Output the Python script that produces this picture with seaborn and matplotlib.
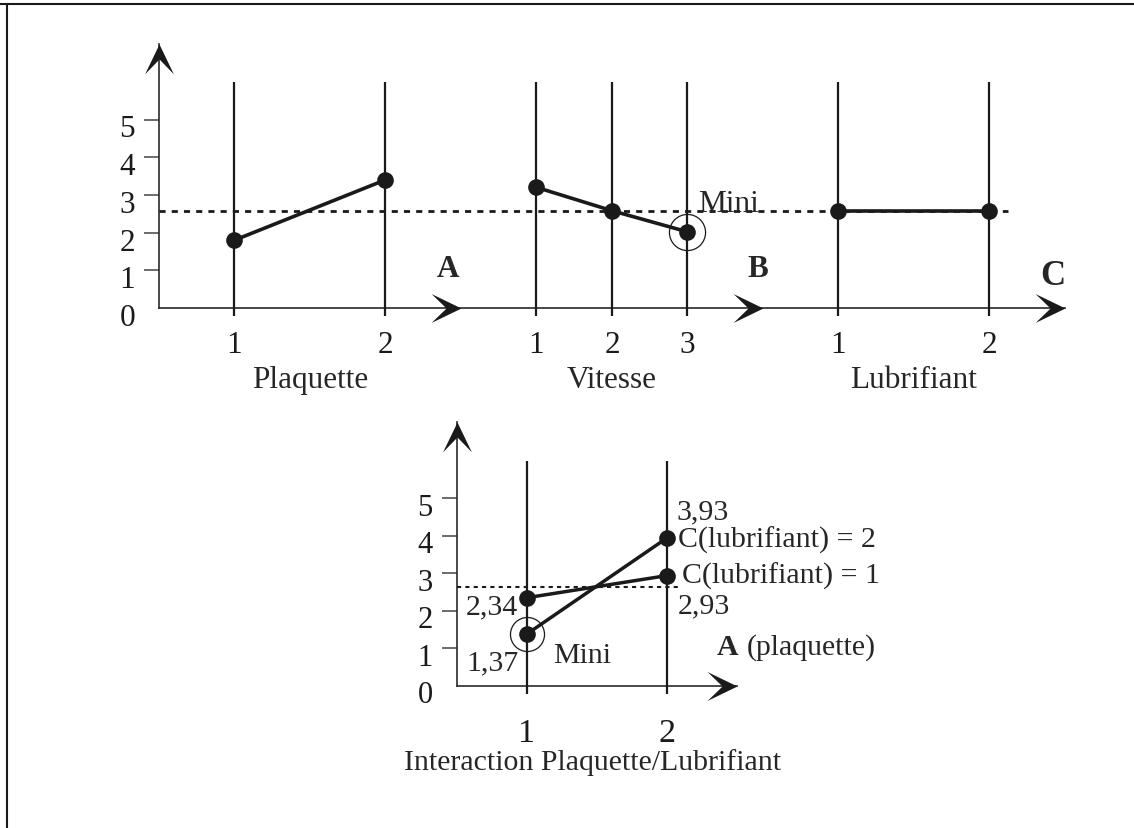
import numpy as np
import pandas as pd
import matplotlib
matplotlib.use("Agg")
import matplotlib.pyplot as plt
from matplotlib.path import Path
from matplotlib.lines import Line2D
from matplotlib.transforms import ScaledTranslation
import seaborn as sns

# ---------------- data ----------------
factors = ["Plaquette", "Vitesse", "Lubrifiant"]
factor_letters = ["A", "B", "C"]
plaquette_levels = [1, 2]
plaquette_means = [1.80, 3.40]
vitesse_levels = [1, 2, 3]
vitesse_means = [3.20, 2.58, 2.02]
lubrifiant_levels = [1, 2]
lubrifiant_means = [2.58, 2.58]
grand_mean_top = 2.58

ytick_values = [0, 1, 2, 3, 4, 5]
ytick_labels = ["0", "1", "2", "3", "4", "5"]

inter_plaquette_levels = [1, 2]
inter_lub1_means = [2.34, 2.93]
inter_lub2_means = [1.37, 3.93]
inter_lub1_labels = ["2,34", "2,93"]
inter_lub2_labels = ["1,37", "3,93"]
inter_series_names = ["C(lubrifiant) = 1", "C(lubrifiant) = 2"]
grand_mean_bottom = 2.64
bottom_title = "Interaction Plaquette/Lubrifiant"

# ---------------- style ----------------
sns.set_theme(style="white")
plt.rcParams["font.family"] = ["Liberation Serif", "DejaVu Serif"]
FS = 22.5      # top chart texts
FSB = 21.5     # bottom chart texts
W, H = 1134, 829
fig = plt.figure(figsize=(W / 100, H / 100), dpi=100)
fig.patch.set_facecolor("white")

# frame lines (top and left) of the original figure
fig.add_artist(Line2D([0, 1], [1 - 5 / H, 1 - 5 / H], transform=fig.transFigure, color="k", lw=1.5))
fig.add_artist(Line2D([7 / W, 7 / W], [0, 1 - 5 / H], transform=fig.transFigure, color="k", lw=1.5))

# arrowhead markers (tip at origin)
right_verts = [(0, 0), (-30, 14.5), (-15, 0), (-30, -14.5), (0, 0)]
right_codes = [Path.MOVETO] + [Path.LINETO] * 3 + [Path.CLOSEPOLY]
arrow_right = Path(right_verts, right_codes)
arrow_up = Path([(-y, x) for (x, y) in right_verts], right_codes)


def place_axes(x0px, xscale, y0px, yscale, xlim, ylim):
    left = x0px + xlim[0] * xscale
    right = x0px + xlim[1] * xscale
    top = y0px - ylim[1] * yscale
    bottom = y0px - ylim[0] * yscale
    ax = fig.add_axes([left / W, 1 - bottom / H, (right - left) / W, (bottom - top) / H])
    ax.set_xlim(xlim)
    ax.set_ylim(ylim)
    ax.patch.set_alpha(0)
    return ax


def style_axes(ax, x_origin, x_end, y_top, arrow_xs, fs):
    for s in ["top", "right"]:
        ax.spines[s].set_visible(False)
    ax.spines["left"].set_position(("data", x_origin))
    ax.spines["bottom"].set_position(("data", 0))
    ax.spines["left"].set_bounds(0, y_top)
    ax.spines["bottom"].set_bounds(x_origin, x_end)
    for s in ["left", "bottom"]:
        ax.spines[s].set_color("#2a2a2a")
        ax.spines[s].set_linewidth(1.2)
        ax.spines[s].set_zorder(1)
    ax.set_yticks(ytick_values, ytick_labels)
    ax.tick_params(axis="y", left=True, direction="out", length=10.8, width=1.1,
                   color="#444444", pad=6.5, labelsize=fs, labelcolor="k")
    ax.yaxis.get_major_ticks()[0].tick1line.set_visible(False)
    off = ScaledTranslation(0, -17 / 100, fig.dpi_scale_trans)
    for lab in ax.get_yticklabels():
        lab.set_verticalalignment("baseline")
        lab.set_transform(lab.get_transform() + off)
    for xa in arrow_xs:
        ax.plot([xa], [0], marker=arrow_right, ms=43, color="k", mew=0, ls="none",
                clip_on=False, zorder=5)
    ax.plot([x_origin], [y_top], marker=arrow_up, ms=43, color="k", mew=0, ls="none",
            clip_on=False, zorder=5)


# ---------------- top chart ----------------
group_start = {"Plaquette": 1, "Vitesse": 5, "Lubrifiant": 9}
group_step = {"Plaquette": 2, "Vitesse": 1, "Lubrifiant": 2}
group_arrow = {"Plaquette": 4, "Vitesse": 8, "Lubrifiant": 12}
letter_pos = {"A": (3.83, 0.85, 22.5), "B": (7.93, 0.85, 22.5), "C": (11.84, 0.64, 25)}

levels_all = [plaquette_levels, vitesse_levels, lubrifiant_levels]
means_all = [plaquette_means, vitesse_means, lubrifiant_means]
rows = []
for f, lv, mv in zip(factors, levels_all, means_all):
    for l, m in zip(lv, mv):
        rows.append(dict(facteur=f, niveau=l, slot=group_start[f] + (l - 1) * group_step[f], moyenne=m))
top_df = pd.DataFrame(rows)

ax_t = place_axes(159, 75.5, 309, 37.7, (-2, 12.6), (-2.6, 7.3))
style_axes(ax_t, 0, 12, 7.0, [group_arrow[f] for f in factors], FS)

ax_t.vlines(top_df["slot"], -0.2, 6.0, color="k", lw=1.6, zorder=2)
ax_t.plot([0, 11.25], [grand_mean_top] * 2, color="k", lw=2.0, ls=(0, (2.2, 2.2)), zorder=3)
sns.lineplot(data=top_df, x="slot", y="moyenne", units="facteur", estimator=None, sort=False,
             color="k", lw=2.6, marker="o", markersize=12, markeredgewidth=0, ax=ax_t, zorder=4)
ax_t.set_xlabel("")
ax_t.set_ylabel("")
ax_t.set_xticks(top_df["slot"], [str(v) for v in top_df["niveau"]])
ax_t.tick_params(axis="x", bottom=False, length=0, pad=16.0, labelsize=FS, labelcolor="k")

# minimum of vitesse circled
vit = top_df[top_df["facteur"] == "Vitesse"]
vmin = vit.loc[vit["moyenne"].idxmin()]
ax_t.plot([vmin["slot"]], [vmin["moyenne"]], marker="o", ms=26, mfc="none", mec="k", mew=0.9,
          ls="none", zorder=5)
ax_t.text(vmin["slot"] + 0.14, vmin["moyenne"] + 0.55, "Mini", fontsize=FS, ha="left", va="baseline")

for f, letter in zip(factors, factor_letters):
    lx, ly, lfs = letter_pos[letter]
    ax_t.text(lx, ly, letter, fontsize=lfs, fontweight="bold", ha="center", va="baseline")
    g = top_df[top_df["facteur"] == f]["slot"]
    ax_t.text(g.mean(), -2.09, f, fontsize=FS, ha="center", va="baseline")

# ---------------- bottom chart ----------------
inter_df = pd.DataFrame({
    "plaquette": inter_plaquette_levels * 2,
    "lubrifiant": [1] * len(inter_lub1_means) + [2] * len(inter_lub2_means),
    "moyenne": inter_lub1_means + inter_lub2_means,
    "etiquette": inter_lub1_labels + inter_lub2_labels,
})

ax_b = place_axes(386.7, 140, 686.5, 37.5, (0.3, 3.6), (-2.6, 7.3))
style_axes(ax_b, 0.5, 2.5, 7.03, [2.5], 22)
ax_b.vlines(inter_plaquette_levels, -0.23, 6.0, color="k", lw=1.6, zorder=2)
ax_b.plot([0.5, 2.08], [grand_mean_bottom] * 2, color="k", lw=1.5, ls=(0, (2, 2)), zorder=3)
sns.lineplot(data=inter_df, x="plaquette", y="moyenne", units="lubrifiant", estimator=None,
             sort=False, color="k", lw=2.5, marker="o", markersize=12, markeredgewidth=0,
             ax=ax_b, zorder=4)
ax_b.set_xlabel("")
ax_b.set_ylabel("")
ax_b.set_xticks(inter_plaquette_levels, [str(v) for v in inter_plaquette_levels])
ax_b.tick_params(axis="x", bottom=False, length=0, pad=22.8, labelsize=24.5, labelcolor="k")

bmin = inter_df.loc[inter_df["moyenne"].idxmin()]
ax_b.plot([bmin["plaquette"]], [bmin["moyenne"]], marker="o", ms=24.5, mfc="none", mec="k",
          mew=0.9, ls="none", zorder=5)
ax_b.text(bmin["plaquette"] + 0.19, bmin["moyenne"] - 0.74, "Mini", fontsize=FSB, ha="left", va="baseline")

# value labels
val_offsets = {(1, 1): (-0.06, -0.43, "right"), (2, 1): (0.08, -0.97, "left"),
               (1, 2): (-0.06, -0.93, "right"), (2, 2): (0.07, 0.53, "left")}
for _, r in inter_df.iterrows():
    dx, dy, ha = val_offsets[(r["plaquette"], r["lubrifiant"])]
    ax_b.text(r["plaquette"] + dx, r["moyenne"] + dy, r["etiquette"], fontsize=FSB, ha=ha, va="baseline")

# series names at level 2
name_offsets = {1: (0.11, -0.20), 2: (0.08, -0.23)}
for lub, name in zip([1, 2], inter_series_names):
    r = inter_df[(inter_df["lubrifiant"] == lub) & (inter_df["plaquette"] == 2)].iloc[0]
    dx, dy = name_offsets[lub]
    ax_b.text(r["plaquette"] + dx, r["moyenne"] + dy, name, fontsize=FSB, ha="left", va="baseline")

ax_b.text(2.36, 0.84, "A", fontsize=FSB, fontweight="bold", ha="left", va="baseline")
ax_b.text(2.57, 0.84, "(plaquette)", fontsize=FSB, ha="left", va="baseline")
ax_b.text(1.47, -2.23, bottom_title, fontsize=FSB, ha="center", va="baseline")

fig.savefig("out.png", dpi=100, facecolor="white")
